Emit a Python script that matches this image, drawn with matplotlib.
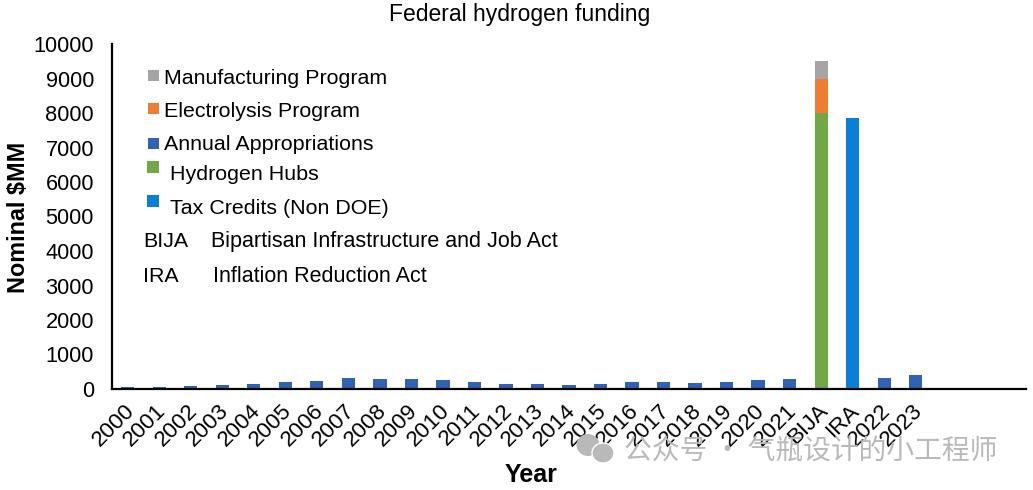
import matplotlib
matplotlib.use('Agg')
import matplotlib.pyplot as plt
from matplotlib.patches import Ellipse, Rectangle
from matplotlib.transforms import ScaledTranslation
import numpy as np

plt.rcParams['font.family'] = ['Liberation Sans', 'DejaVu Sans']

# data, $MM
years = ['2000', '2001', '2002', '2003', '2004', '2005', '2006', '2007', '2008',
         '2009', '2010', '2011', '2012', '2013', '2014', '2015', '2016', '2017',
         '2018', '2019', '2020', '2021', 'BIJA', 'IRA', '2022', '2023', '', '', '']
annual = [60, 60, 100, 130, 155, 215, 235, 320, 300, 300, 265, 190, 150, 140,
          125, 140, 190, 190, 170, 190, 265, 300, 0, 0, 320, 400, 0, 0, 0]
hubs = [0] * 22 + [8000] + [0] * 6
electrolysis = [0] * 22 + [1000] + [0] * 6
manufacturing = [0] * 22 + [500] + [0] * 6
tax_credits = [0] * 23 + [7850] + [0] * 5

blue = '#2f64b5'
green = '#70a845'
orange = '#ee7d31'
grey = '#a5a5a5'
light_blue = '#0a7fd8'

W, H = 1033, 490
fig = plt.figure(figsize=(W / 100, H / 100), dpi=100)
ax = fig.add_axes([112 / W, 1 - 389 / H, (1026 - 112) / W, 345 / H])

x = np.arange(len(years))
width = 0.42
ax.bar(x, annual, width, color=blue)
ax.bar(x, hubs, width, color=green)
ax.bar(x, electrolysis, width, bottom=hubs, color=orange)
ax.bar(x, manufacturing, width, bottom=np.add(hubs, electrolysis), color=grey)
ax.bar(x, tax_credits, width, color=light_blue)

ax.set_xlim(-0.5, len(years) - 0.5)
ax.set_ylim(0, 10000)
ax.set_yticks(range(0, 10001, 1000))
ax.set_xticks(x)
ax.set_xticklabels(years, rotation=45, ha='right', va='top', rotation_mode='anchor')
ax.tick_params(axis='both', length=0, labelcolor='black')
ax.tick_params(axis='y', labelsize=15.7, pad=13)
ax.tick_params(axis='x', labelsize=16.2, pad=8)
# x labels sit a bit left of their bars
shift = ScaledTranslation(-4 / 100, 0, fig.dpi_scale_trans)
for lab in ax.get_xticklabels():
    lab.set_transform(lab.get_transform() + shift)
for side in ['top', 'right']:
    ax.spines[side].set_visible(False)
for side in ['left', 'bottom']:
    ax.spines[side].set_linewidth(1.6)

fig.text(520 / W, 1 - 14 / H, 'Federal hydrogen funding', fontsize=16.5, ha='center', va='center')
fig.text(531 / W, 1 - 475 / H, 'Year', fontsize=18, fontweight='bold', ha='center', va='center')
fig.text(19 / W, 1 - 217 / H, 'Nominal $MM', fontsize=16.8, fontweight='bold',
         rotation=90, ha='center', va='center')

# hand placed key, as in the original: label, colour, box x, text x, box y, text y, box size
key = [('Manufacturing Program', grey, 153, 164, 76, 78, 11),
       ('Electrolysis Program', orange, 153, 164, 109, 111, 11),
       ('Annual Appropriations', blue, 153, 164, 144, 145, 11),
       ('Hydrogen Hubs', green, 153, 170, 167, 174, 12),
       ('Tax Credits (Non DOE)', light_blue, 153, 170, 201, 208, 12)]
for label, colour, bx, tx, by, ty, s in key:
    fig.add_artist(Rectangle(((bx - s / 2) / W, 1 - (by + s / 2) / H), s / W, s / H,
                             transform=fig.transFigure, facecolor=colour, edgecolor='none'))
    fig.text(tx / W, 1 - ty / H, label, fontsize=15.4, ha='left', va='center')

fig.text(143 / W, 1 - 241 / H, 'BIJA', fontsize=15.4, ha='left', va='center')
fig.text(211 / W, 1 - 241 / H, 'Bipartisan Infrastructure and Job Act', fontsize=15.5, ha='left', va='center')
fig.text(143 / W, 1 - 277 / H, 'IRA', fontsize=15.4, ha='left', va='center')
fig.text(213 / W, 1 - 277 / H, 'Inflation Reduction Act', fontsize=15.5, ha='left', va='center')

# watermark
mark = '#b9b9b9'
fig.add_artist(Ellipse((588 / W, 1 - 445 / H), 23 / W, 22 / H, transform=fig.transFigure,
                       facecolor=mark, edgecolor='none', zorder=5))
fig.add_artist(Ellipse((603 / W, 1 - 453 / H), 22 / W, 20 / H, transform=fig.transFigure,
                       facecolor=mark, edgecolor='white', linewidth=1, zorder=5))
fig.text(624 / W, 1 - 451 / H, '公众号 · 气瓶设计的小工程师', fontsize=20, color=mark, ha='left', va='center',
         family=['Noto Sans CJK SC', 'DejaVu Sans'], zorder=5)

fig.savefig('out.png', dpi=100)
